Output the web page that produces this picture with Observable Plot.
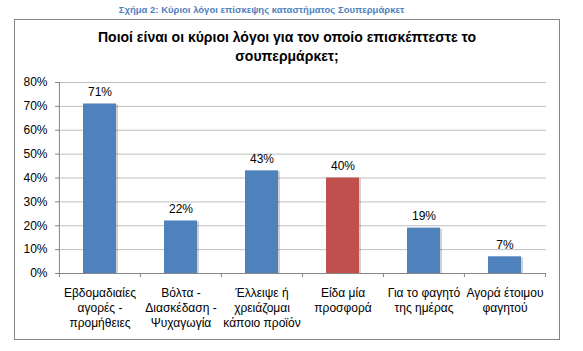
<!DOCTYPE html>
<html>
<head>
<meta charset="utf-8">
<script src="https://cdn.jsdelivr.net/npm/d3@7"></script>
<script src="https://cdn.jsdelivr.net/npm/@observablehq/plot@0.6"></script>
<style>
  html, body { margin: 0; padding: 0; background: #fff; }
  #wrap { position: relative; width: 583px; height: 351px; overflow: hidden; font-family: "Liberation Sans", Arial, sans-serif; }
  #caption { position: absolute; left: 0; top: 4px; width: 523px; text-align: center; font-size: 9.5px; line-height: 11px; font-weight: bold; color: #4F81BD; }
  #box { position: absolute; left: 14px; top: 19px; width: 544px; height: 319px; border: 1px solid #868686; box-sizing: content-box; }
  #title { position: absolute; left: 14px; top: 28px; width: 546px; text-align: center; font-size: 14px; line-height: 19px; font-weight: bold; color: #000; }
  #chart { position: absolute; left: 0; top: 0; }
</style>
</head>
<body>
<div id="wrap">
  <div id="caption">Σχήμα 2: Κύριοι λόγοι επίσκεψης καταστήματος Σουπερμάρκετ</div>
  <div id="box"></div>
  <div id="title">Ποιοί είναι οι κύριοι λόγοι για τον οποίο επισκέπτεστε το<br>σουπερμάρκετ;</div>
  <div id="chart"></div>
</div>
<script>
const categories = [
  "Εβδομαδιαίες\nαγορές -\nπρομήθειες",
  "Βόλτα -\nΔιασκέδαση -\nΨυχαγωγία",
  "Έλλειψε ή\nχρειάζομαι\nκάποιο προϊόν",
  "Είδα μία\nπροσφορά",
  "Για το φαγητό\nτης ημέρας",
  "Αγορά έτοιμου\nφαγητού"
];
const values = [71, 22, 43, 40, 19, 7];
const highlighted = "Είδα μία\nπροσφορά";
const yTicks = [0, 10, 20, 30, 40, 50, 60, 70, 80];

const data = categories.map((c, i) => ({cat: c, value: values[i]}));
const FONT = "Liberation Sans, Arial, sans-serif";
const step = (583 - 59 - 37) / categories.length;

const chart = Plot.plot({
  width: 583,
  height: 351,
  marginLeft: 59,
  marginRight: 37,
  marginTop: 82,
  marginBottom: 78,
  style: {fontFamily: FONT, background: "transparent", overflow: "visible"},
  x: {domain: categories, paddingInner: 0.59, paddingOuter: 0.295, axis: null},
  y: {domain: [0, 80], axis: null},
  marks: [
    Plot.gridY(yTicks, {stroke: "#BFBFBF", strokeOpacity: 1, strokeWidth: 1}),
    Plot.barY(data, {x: "cat", y: "value", fill: "#000", fillOpacity: 0.18, dx: 2, dy: 1}),
    Plot.barY(data, {x: "cat", y: "value", fill: d => d.cat === highlighted ? "#C0504D" : "#4F81BD"}),
    Plot.ruleY([0], {stroke: "#868686", strokeWidth: 1}),
    Plot.ruleX([categories[0]], {y1: 0, y2: 80, dx: -step / 2, stroke: "#868686"}),
    Plot.ruleX(categories, {y1: 0, y2: 0, insetBottom: -4, dx: -step / 2, stroke: "#868686"}),
    Plot.ruleX([categories[categories.length - 1]], {y1: 0, y2: 0, insetBottom: -4, dx: step / 2, stroke: "#868686"}),
    Plot.axisY(yTicks, {tickSize: 4, tickPadding: 8, tickFormat: d => d + "%", fontSize: 12, fill: "#000", stroke: "#868686", anchor: "left", label: null}),
    Plot.text(data, {x: "cat", y: "value", text: d => d.value + "%", dy: -8, lineAnchor: "bottom", fontSize: 12, fill: "#000"}),
    Plot.text(categories, {x: d => d, y: 0, text: d => d, lineAnchor: "top", dy: 13, lineHeight: 1.25, fontSize: 12, fill: "#000"})
  ]
});
document.getElementById("chart").appendChild(chart);
</script>
</body>
</html>
